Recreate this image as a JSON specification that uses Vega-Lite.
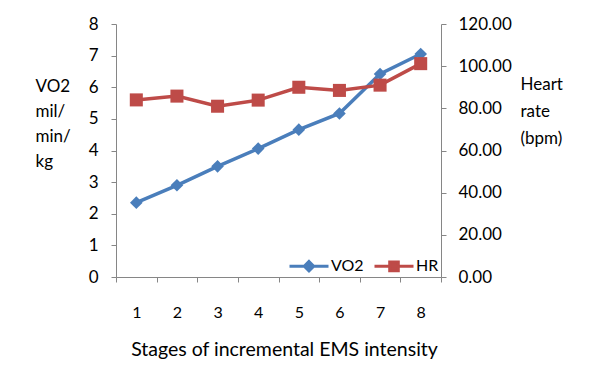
{
  "$schema": "https://vega.github.io/schema/vega-lite/v6.json",
  "width": 325,
  "height": 253,
  "autosize": {"type": "none"},
  "padding": {"left": 116, "top": 24, "right": 156, "bottom": 94},
  "background": "white",
  "config": {
    "font": "Lato",
    "view": {"stroke": null},
    "axis": {
      "domainColor": "#868686",
      "tickColor": "#868686",
      "tickSize": 5,
      "grid": false,
      "labelColor": "#000000",
      "titleColor": "#000000",
      "labelFont": "Lato",
      "titleFont": "Lato",
      "titleFontWeight": "normal"
    }
  },
  "data": {
    "values": [
      {"stage": "1", "series": "VO2", "value": 2.35},
      {"stage": "2", "series": "VO2", "value": 2.9},
      {"stage": "3", "series": "VO2", "value": 3.5},
      {"stage": "4", "series": "VO2", "value": 4.06},
      {"stage": "5", "series": "VO2", "value": 4.66},
      {"stage": "6", "series": "VO2", "value": 5.17},
      {"stage": "7", "series": "VO2", "value": 6.42},
      {"stage": "8", "series": "VO2", "value": 7.05},
      {"stage": "1", "series": "HR", "value": 84.0},
      {"stage": "2", "series": "HR", "value": 85.8},
      {"stage": "3", "series": "HR", "value": 81.0},
      {"stage": "4", "series": "HR", "value": 83.9},
      {"stage": "5", "series": "HR", "value": 90.0},
      {"stage": "6", "series": "HR", "value": 88.5},
      {"stage": "7", "series": "HR", "value": 91.0},
      {"stage": "8", "series": "HR", "value": 101.2}
    ]
  },
  "encoding": {
    "x": {
      "field": "stage",
      "type": "ordinal",
      "sort": null,
      "scale": {"type": "band", "paddingInner": 0, "paddingOuter": 0},
      "axis": {
        "title": "Stages of incremental EMS intensity",
        "titleFontSize": 19.5,
        "titleY": 78,
        "titleX": 168,
        "titleBaseline": "alphabetic",
        "labelAngle": 0,
        "labelFontSize": 16,
        "labelPadding": 22,
        "tickBand": "extent"
      }
    },
    "color": {
      "field": "series",
      "type": "nominal",
      "scale": {"domain": ["VO2", "HR"], "range": ["#4A7EBB", "#BE4B48"]},
      "legend": {
        "title": null,
        "orient": "none",
        "direction": "horizontal",
        "legendX": 172,
        "legendY": 221,
        "labelFontSize": 16,
        "labelColor": "#000000",
        "labelFont": "Lato",
        "symbolSize": 1521,
        "columnPadding": 4,
        "labelOffset": 1,
        "encode": {
          "symbols": {
            "update": {
              "shape": {"signal": "datum.value === 'VO2' ? 'M-1,0H1M0,-0.24L0.24,0L0,0.24L-0.24,0Z' : 'M-1,0H1M-0.22,-0.22H0.22V0.22H-0.22Z'"},
              "fill": {"signal": "datum.value === 'VO2' ? '#4A7EBB' : '#BE4B48'"},
              "stroke": {"signal": "datum.value === 'VO2' ? '#4A7EBB' : '#BE4B48'"},
              "strokeWidth": {"value": 3},
              "opacity": {"value": 1}
            }
          }
        }
      }
    }
  },
  "layer": [
    {
      "transform": [{"filter": "datum.series === 'VO2'"}],
      "encoding": {
        "y": {
          "field": "value",
          "type": "quantitative",
          "scale": {"domain": [0, 8], "nice": false},
          "axis": {
            "orient": "left",
            "values": [0, 1, 2, 3, 4, 5, 6, 7, 8],
            "labelFontSize": 17,
            "labelPadding": 13,
            "title": ["VO2", "mil/", "min/", "kg"],
            "titleFontSize": 17,
            "titleAngle": 0,
            "titleAlign": "left",
            "titleBaseline": "top",
            "titleX": -81,
            "titleY": 54,
            "titleLineHeight": 25
          }
        }
      },
      "layer": [
        {"mark": {"type": "line", "strokeWidth": 3.5}},
        {"mark": {"type": "point", "shape": "diamond", "filled": true, "size": 160, "opacity": 1}}
      ]
    },
    {
      "transform": [{"filter": "datum.series === 'HR'"}],
      "encoding": {
        "y": {
          "field": "value",
          "type": "quantitative",
          "scale": {"domain": [0, 120], "nice": false},
          "axis": {
            "orient": "right",
            "values": [0, 20, 40, 60, 80, 100, 120],
            "format": ".2f",
            "labelFontSize": 17,
            "labelPadding": 12,
            "title": ["Heart", "rate", "(bpm)"],
            "titleFontSize": 17,
            "titleAngle": 0,
            "titleAlign": "left",
            "titleBaseline": "top",
            "titleX": 79,
            "titleY": 52,
            "titleLineHeight": 27
          }
        }
      },
      "layer": [
        {"mark": {"type": "line", "strokeWidth": 3.5}},
        {"mark": {"type": "point", "shape": "square", "filled": true, "size": 170, "opacity": 1}}
      ]
    }
  ],
  "resolve": {"scale": {"y": "independent"}}
}
